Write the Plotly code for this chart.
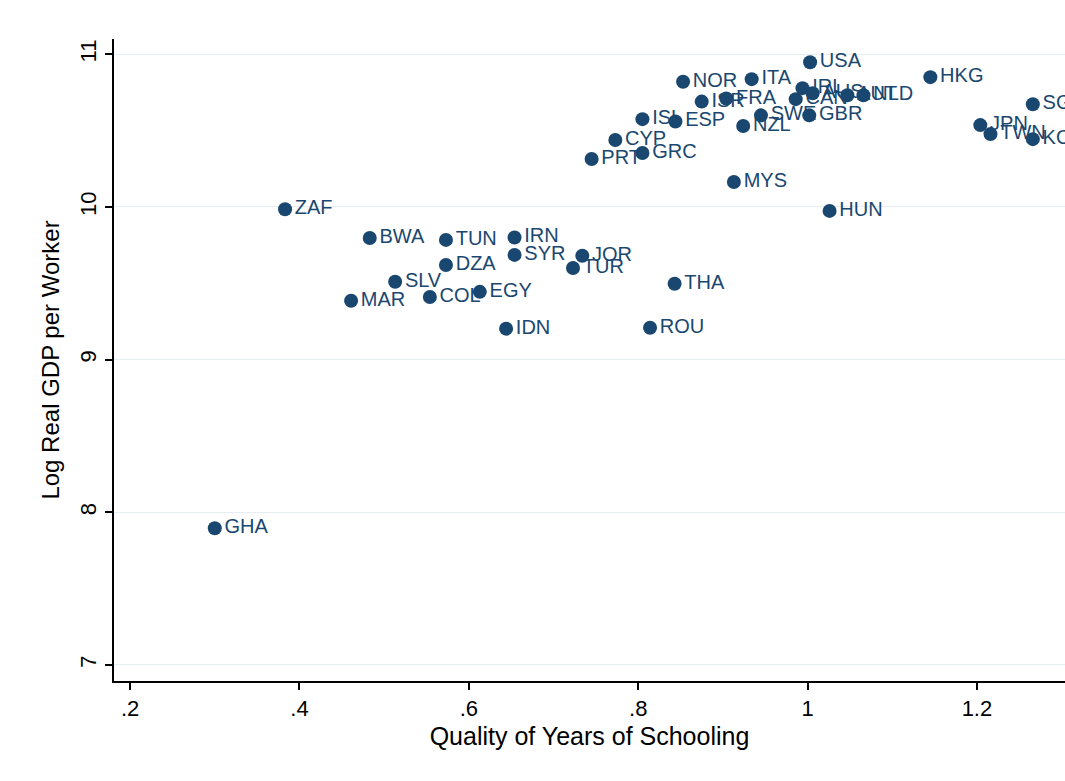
import plotly.graph_objects as go

countries = ["GHA","ZAF","BWA","TUN","IRN","SYR","JOR","TUR","DZA","SLV","MAR","COL","EGY","IDN",
             "THA","ROU","HUN","MYS","PRT","GRC","CYP","ISL","ESP","ISR","FRA","NOR","ITA","NZL",
             "SWE","GBR","USA","IRL","CAN","AUS","AUT","NLD","HKG","SGP","JPN","TWN","KOR"]
quality = [0.30,0.383,0.483,0.573,0.654,0.654,0.734,0.723,0.573,0.513,0.461,0.554,0.613,0.644,
           0.843,0.814,1.026,0.913,0.745,0.805,0.773,0.805,0.844,0.875,0.904,0.853,0.934,0.924,
           0.945,1.002,1.003,0.994,0.986,1.006,1.047,1.066,1.145,1.266,1.204,1.216,1.266]
log_gdp = [7.895,9.985,9.797,9.784,9.80,9.686,9.68,9.60,9.62,9.51,9.386,9.41,9.444,9.203,
           9.497,9.209,9.974,10.163,10.314,10.353,10.438,10.575,10.56,10.69,10.71,10.82,10.837,10.53,
           10.60,10.60,10.948,10.778,10.706,10.745,10.732,10.732,10.85,10.673,10.536,10.477,10.444]

x_ticks = [0.2,0.4,0.6,0.8,1.0,1.2]
x_ticktext = [".2",".4",".6",".8","1","1.2"]
y_ticks = [7,8,9,10,11]

navy = "#1a476f"
font_family = "Liberation Sans, Arial, sans-serif"

fig = go.Figure(go.Scatter(
    x=quality, y=log_gdp, mode="markers+text", text=countries,
    textposition="middle right",
    marker=dict(size=14, color=navy, line=dict(width=0)),
    textfont=dict(family=font_family, size=20, color=navy),
    cliponaxis=True, hoverinfo="skip",
))

fig.update_layout(
    width=1065, height=781,
    margin=dict(l=114, r=0, t=39, b=100),
    paper_bgcolor="white", plot_bgcolor="white",
    showlegend=False,
    font=dict(family=font_family, color="black"),
)
fig.update_xaxes(
    range=[0.181, 1.304], tickvals=x_ticks, ticktext=x_ticktext,
    showgrid=False, zeroline=False, showline=True, linecolor="black", linewidth=1.5,
    ticks="outside", ticklen=7, tickwidth=1.5, tickcolor="black",
    tickfont=dict(size=22, color="black"),
    title=dict(text="Quality of Years of Schooling", font=dict(size=25, color="black"), standoff=7),
)
fig.update_yaxes(
    range=[6.895, 11.10], tickvals=y_ticks, tickangle=-90,
    showgrid=True, gridcolor="#e6eef1", gridwidth=1.2, zeroline=False,
    showline=True, linecolor="black", linewidth=1.5,
    ticks="outside", ticklen=7, tickwidth=1.5, tickcolor="black",
    tickfont=dict(size=22, color="black"),
    title=dict(text="Log Real GDP per Worker", font=dict(size=24, color="black"), standoff=10),
)

fig.write_html("out.html")
